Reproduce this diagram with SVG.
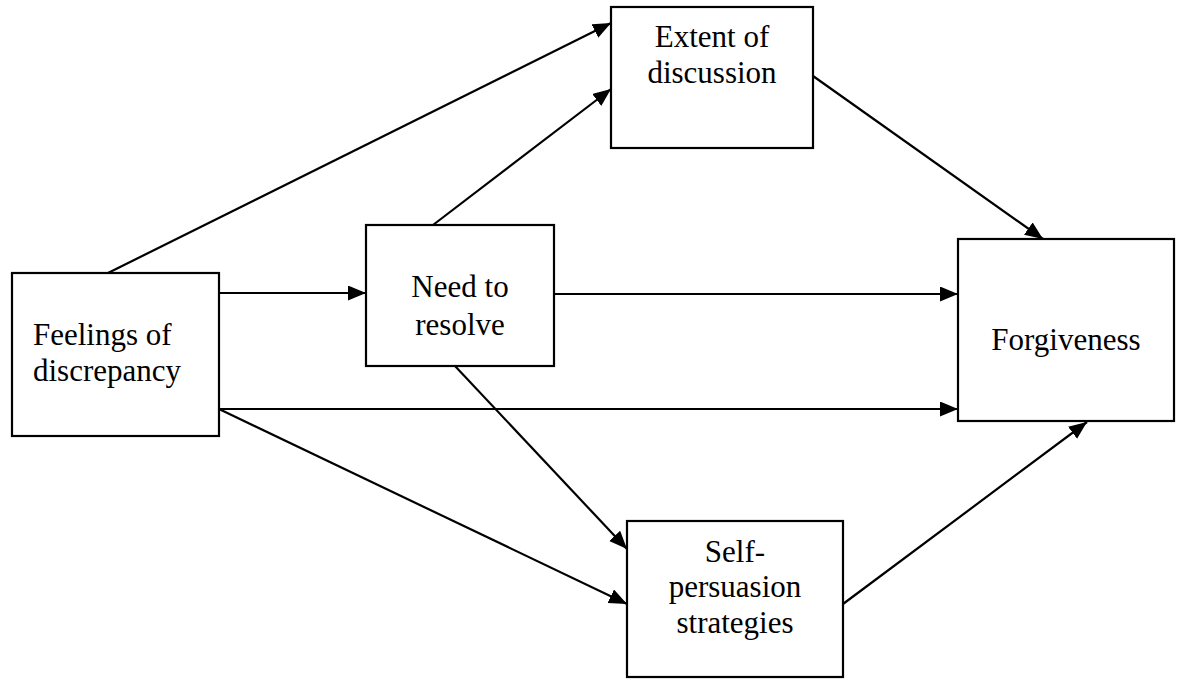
<svg xmlns="http://www.w3.org/2000/svg" width="1183" height="679" viewBox="0 0 1183 679">
  <defs>
    <marker id="arrow" markerUnits="userSpaceOnUse" markerWidth="19" markerHeight="16" refX="18" refY="7.5" orient="auto">
      <path d="M0,0 L18,7.5 L0,15 Z" fill="#000"/>
    </marker>
    <style>
      .box { fill: #fff; stroke: #000; stroke-width: 2.2; }
      .lbl { font-family: "Liberation Serif", "Times New Roman", serif; font-size: 31px; fill: #000; }
      .mid { text-anchor: middle; }
      .edge { stroke: #000; stroke-width: 2.2; fill: none; marker-end: url(#arrow); }
    </style>
  </defs>
  <rect width="1183" height="679" fill="#fff"/>

  <g id="connectors">
    <line class="edge" x1="108" y1="273" x2="611" y2="23"/>
    <line class="edge" x1="433" y1="225" x2="611" y2="89"/>
    <line class="edge" x1="813" y1="76" x2="1043" y2="239"/>
    <line class="edge" x1="219" y1="293" x2="366" y2="293"/>
    <line class="edge" x1="554" y1="294" x2="958" y2="294"/>
    <line class="edge" x1="219" y1="409" x2="958" y2="409"/>
    <line class="edge" x1="455" y1="366" x2="627" y2="549"/>
    <line class="edge" x1="219" y1="409" x2="627" y2="604"/>
    <line class="edge" x1="843" y1="604" x2="1087" y2="422"/>
  </g>

  <g id="feelings">
    <rect class="box" x="12" y="273" width="207" height="163"/>
    <text class="lbl" x="33" y="345">Feelings of</text>
    <text class="lbl" x="33" y="381">discrepancy</text>
  </g>

  <g id="need">
    <rect class="box" x="366" y="225" width="188" height="141"/>
    <text class="lbl mid" x="460" y="297">Need to</text>
    <text class="lbl mid" x="460" y="335">resolve</text>
  </g>

  <g id="extent">
    <rect class="box" x="611" y="7" width="202" height="141"/>
    <text class="lbl mid" x="712" y="47">Extent of</text>
    <text class="lbl mid" x="712" y="83">discussion</text>
  </g>

  <g id="forgiveness">
    <rect class="box" x="958" y="239" width="216" height="182"/>
    <text class="lbl mid" x="1066" y="350">Forgiveness</text>
  </g>

  <g id="selfpersuasion">
    <rect class="box" x="627" y="521" width="216" height="156"/>
    <text class="lbl mid" x="735" y="562">Self-</text>
    <text class="lbl mid" x="735" y="597">persuasion</text>
    <text class="lbl mid" x="735" y="633">strategies</text>
  </g>
</svg>
